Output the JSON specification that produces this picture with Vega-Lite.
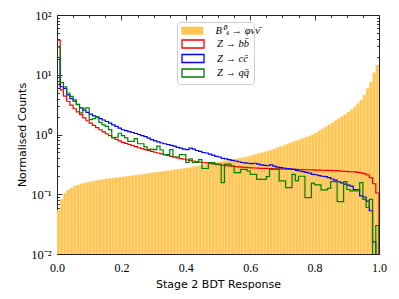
{
"$schema": "https://vega.github.io/schema/vega-lite/v6.json",
"width": 322, "height": 239,
"autosize": {"type": "none"},
"padding": {"left": 57, "top": 15, "right": 20, "bottom": 45},
"background": "white",
"config": {
  "view": {"stroke": null},
  "axis": {"domainColor": "#222222", "domainWidth": 1, "tickColor": "#222222", "tickWidth": 0.9, "grid": false, "labelFont": "Liberation Serif", "labelFontSize": 12, "labelColor": "#000000", "titleFont": "DejaVu Sans", "titleFontSize": 11, "titleFontWeight": "normal", "titleColor": "#000000", "labelOverlap": false, "labelFlush": false},
  "legend": {"labelFont": "Liberation Serif", "labelFontStyle": "italic", "labelFontSize": 10.5, "labelOffset": 18, "labelColor": "#000000", "symbolType": "M-2.2,-0.8H2.2V0.8H-2.2Z", "symbolSize": 100, "symbolOffset": 6, "rowPadding": 0.5}
},
"datasets": {"h": [
{"lo":0.00,"hi":0.01,"s":0.054,"b":38,"c":18,"q":29},
{"lo":0.01,"hi":0.02,"s":0.083,"b":5.6,"c":6.3,"q":7.4},
{"lo":0.02,"hi":0.03,"s":0.105,"b":4.4,"c":5.9,"q":6.3},
{"lo":0.03,"hi":0.04,"s":0.118,"b":3.6,"c":4.6,"q":4.95},
{"lo":0.04,"hi":0.05,"s":0.128,"b":3.1,"c":4.0,"q":4.35},
{"lo":0.05,"hi":0.06,"s":0.137,"b":2.7,"c":3.6,"q":3.8},
{"lo":0.06,"hi":0.07,"s":0.143,"b":2.4,"c":3.2,"q":3.16},
{"lo":0.07,"hi":0.08,"s":0.149,"b":2.15,"c":2.8,"q":2.3},
{"lo":0.08,"hi":0.09,"s":0.154,"b":1.9,"c":2.55,"q":2.75},
{"lo":0.09,"hi":0.10,"s":0.159,"b":1.7,"c":2.35,"q":2.78},
{"lo":0.10,"hi":0.11,"s":0.163,"b":1.55,"c":2.2,"q":1.78},
{"lo":0.11,"hi":0.12,"s":0.167,"b":1.42,"c":2.05,"q":1.85},
{"lo":0.12,"hi":0.13,"s":0.171,"b":1.30,"c":1.95,"q":1.97},
{"lo":0.13,"hi":0.14,"s":0.175,"b":1.20,"c":1.85,"q":1.6},
{"lo":0.14,"hi":0.15,"s":0.178,"b":1.11,"c":1.75,"q":1.45},
{"lo":0.15,"hi":0.16,"s":0.181,"b":1.03,"c":1.65,"q":1.37},
{"lo":0.16,"hi":0.17,"s":0.184,"b":0.96,"c":1.55,"q":1.21},
{"lo":0.17,"hi":0.18,"s":0.187,"b":0.89,"c":1.45,"q":0.88},
{"lo":0.18,"hi":0.19,"s":0.190,"b":0.83,"c":1.37,"q":0.9},
{"lo":0.19,"hi":0.20,"s":0.193,"b":0.78,"c":1.28,"q":1.05},
{"lo":0.20,"hi":0.21,"s":0.196,"b":0.74,"c":1.20,"q":0.96},
{"lo":0.21,"hi":0.22,"s":0.199,"b":0.71,"c":1.16,"q":0.88},
{"lo":0.22,"hi":0.23,"s":0.202,"b":0.68,"c":1.12,"q":0.77},
{"lo":0.23,"hi":0.24,"s":0.206,"b":0.65,"c":1.08,"q":0.77},
{"lo":0.24,"hi":0.25,"s":0.209,"b":0.625,"c":1.04,"q":0.85},
{"lo":0.25,"hi":0.26,"s":0.213,"b":0.60,"c":1.0,"q":0.70},
{"lo":0.26,"hi":0.27,"s":0.216,"b":0.58,"c":0.96,"q":0.70},
{"lo":0.27,"hi":0.28,"s":0.220,"b":0.56,"c":0.92,"q":0.62},
{"lo":0.28,"hi":0.29,"s":0.224,"b":0.54,"c":0.87,"q":0.56},
{"lo":0.29,"hi":0.30,"s":0.228,"b":0.52,"c":0.82,"q":0.57},
{"lo":0.30,"hi":0.31,"s":0.232,"b":0.505,"c":0.78,"q":0.56},
{"lo":0.31,"hi":0.32,"s":0.236,"b":0.49,"c":0.75,"q":0.64},
{"lo":0.32,"hi":0.33,"s":0.240,"b":0.475,"c":0.72,"q":0.55},
{"lo":0.33,"hi":0.34,"s":0.244,"b":0.46,"c":0.70,"q":0.46},
{"lo":0.34,"hi":0.35,"s":0.248,"b":0.445,"c":0.68,"q":0.46},
{"lo":0.35,"hi":0.36,"s":0.252,"b":0.43,"c":0.66,"q":0.56},
{"lo":0.36,"hi":0.37,"s":0.257,"b":0.42,"c":0.64,"q":0.42},
{"lo":0.37,"hi":0.38,"s":0.261,"b":0.405,"c":0.61,"q":0.42},
{"lo":0.38,"hi":0.39,"s":0.266,"b":0.395,"c":0.59,"q":0.46},
{"lo":0.39,"hi":0.40,"s":0.271,"b":0.385,"c":0.57,"q":0.46},
{"lo":0.40,"hi":0.41,"s":0.276,"b":0.375,"c":0.56,"q":0.34},
{"lo":0.41,"hi":0.42,"s":0.282,"b":0.367,"c":0.59,"q":0.39},
{"lo":0.42,"hi":0.43,"s":0.289,"b":0.36,"c":0.57,"q":0.34},
{"lo":0.43,"hi":0.44,"s":0.296,"b":0.353,"c":0.54,"q":0.34},
{"lo":0.44,"hi":0.45,"s":0.303,"b":0.346,"c":0.52,"q":0.38},
{"lo":0.45,"hi":0.46,"s":0.310,"b":0.34,"c":0.50,"q":0.27},
{"lo":0.46,"hi":0.47,"s":0.317,"b":0.334,"c":0.49,"q":0.27},
{"lo":0.47,"hi":0.48,"s":0.325,"b":0.328,"c":0.47,"q":0.34},
{"lo":0.48,"hi":0.49,"s":0.332,"b":0.322,"c":0.45,"q":0.34},
{"lo":0.49,"hi":0.50,"s":0.340,"b":0.317,"c":0.43,"q":0.32},
{"lo":0.50,"hi":0.51,"s":0.348,"b":0.312,"c":0.42,"q":0.32},
{"lo":0.51,"hi":0.52,"s":0.356,"b":0.307,"c":0.40,"q":0.157},
{"lo":0.52,"hi":0.53,"s":0.365,"b":0.302,"c":0.39,"q":0.32},
{"lo":0.53,"hi":0.54,"s":0.373,"b":0.298,"c":0.38,"q":0.32},
{"lo":0.54,"hi":0.55,"s":0.382,"b":0.294,"c":0.37,"q":0.30},
{"lo":0.55,"hi":0.56,"s":0.391,"b":0.29,"c":0.36,"q":0.23},
{"lo":0.56,"hi":0.57,"s":0.400,"b":0.287,"c":0.35,"q":0.23},
{"lo":0.57,"hi":0.58,"s":0.410,"b":0.284,"c":0.34,"q":0.26},
{"lo":0.58,"hi":0.59,"s":0.420,"b":0.281,"c":0.335,"q":0.26},
{"lo":0.59,"hi":0.60,"s":0.430,"b":0.279,"c":0.33,"q":0.245},
{"lo":0.60,"hi":0.61,"s":0.445,"b":0.277,"c":0.325,"q":0.215},
{"lo":0.61,"hi":0.62,"s":0.461,"b":0.275,"c":0.33,"q":0.215},
{"lo":0.62,"hi":0.63,"s":0.477,"b":0.274,"c":0.32,"q":0.178},
{"lo":0.63,"hi":0.64,"s":0.494,"b":0.272,"c":0.31,"q":0.178},
{"lo":0.64,"hi":0.65,"s":0.512,"b":0.271,"c":0.305,"q":0.178},
{"lo":0.65,"hi":0.66,"s":0.530,"b":0.27,"c":0.30,"q":0.197},
{"lo":0.66,"hi":0.67,"s":0.550,"b":0.268,"c":0.31,"q":0.26},
{"lo":0.67,"hi":0.68,"s":0.575,"b":0.267,"c":0.295,"q":0.26},
{"lo":0.68,"hi":0.69,"s":0.602,"b":0.266,"c":0.285,"q":0.26},
{"lo":0.69,"hi":0.70,"s":0.630,"b":0.265,"c":0.28,"q":0.167},
{"lo":0.70,"hi":0.71,"s":0.660,"b":0.264,"c":0.275,"q":0.167},
{"lo":0.71,"hi":0.72,"s":0.690,"b":0.263,"c":0.27,"q":0.129},
{"lo":0.72,"hi":0.73,"s":0.722,"b":0.262,"c":0.265,"q":0.129},
{"lo":0.73,"hi":0.74,"s":0.756,"b":0.261,"c":0.26,"q":0.215},
{"lo":0.74,"hi":0.75,"s":0.791,"b":0.26,"c":0.25,"q":0.167},
{"lo":0.75,"hi":0.76,"s":0.828,"b":0.259,"c":0.245,"q":0.2},
{"lo":0.76,"hi":0.77,"s":0.866,"b":0.258,"c":0.24,"q":0.2},
{"lo":0.77,"hi":0.78,"s":0.907,"b":0.257,"c":0.232,"q":0.088},
{"lo":0.78,"hi":0.79,"s":0.950,"b":0.256,"c":0.225,"q":0.088},
{"lo":0.79,"hi":0.80,"s":1.00,"b":0.255,"c":0.215,"q":0.153},
{"lo":0.80,"hi":0.81,"s":1.07,"b":0.254,"c":0.212,"q":0.143},
{"lo":0.81,"hi":0.82,"s":1.15,"b":0.253,"c":0.205,"q":0.143},
{"lo":0.82,"hi":0.83,"s":1.24,"b":0.252,"c":0.20,"q":0.118},
{"lo":0.83,"hi":0.84,"s":1.34,"b":0.251,"c":0.197,"q":0.118},
{"lo":0.84,"hi":0.85,"s":1.45,"b":0.25,"c":0.19,"q":0.125},
{"lo":0.85,"hi":0.86,"s":1.57,"b":0.249,"c":0.18,"q":0.163},
{"lo":0.86,"hi":0.87,"s":1.70,"b":0.248,"c":0.172,"q":0.163},
{"lo":0.87,"hi":0.88,"s":1.85,"b":0.246,"c":0.162,"q":0.075},
{"lo":0.88,"hi":0.89,"s":2.00,"b":0.244,"c":0.155,"q":0.075},
{"lo":0.89,"hi":0.90,"s":2.17,"b":0.242,"c":0.148,"q":0.163},
{"lo":0.90,"hi":0.91,"s":2.38,"b":0.240,"c":0.142,"q":0.12},
{"lo":0.91,"hi":0.92,"s":2.62,"b":0.238,"c":0.137,"q":0.114},
{"lo":0.92,"hi":0.93,"s":2.92,"b":0.236,"c":0.12,"q":0.114},
{"lo":0.93,"hi":0.94,"s":3.30,"b":0.233,"c":0.12,"q":0.114},
{"lo":0.94,"hi":0.95,"s":3.80,"b":0.228,"c":0.094,"q":0.157},
{"lo":0.95,"hi":0.96,"s":4.60,"b":0.222,"c":0.09,"q":0.082},
{"lo":0.96,"hi":0.97,"s":5.90,"b":0.21,"c":0.077,"q":0.06},
{"lo":0.97,"hi":0.98,"s":7.60,"b":0.19,"c":0.053,"q":0.082},
{"lo":0.98,"hi":0.99,"s":10.8,"b":0.15,"c":0.016,"q":0.00001},
{"lo":0.99,"hi":1.00,"s":14.5,"b":0.105,"c":0.00001,"q":0.03},
{"lo":1.00,"b":0.00001,"c":0.00001,"q":0.00001}
]},
"data": {"name": "h"},
"layer": [
  {
    "mark": {"type": "bar", "clip": true, "stroke": "#ffdc9c", "strokeWidth": 0.5},
    "encoding": {
      "x": {"field": "lo", "type": "quantitative", "scale": {"domain": [0, 1], "nice": false, "zero": false},
        "axis": {"orient": "bottom", "values": [0,0.05,0.1,0.15,0.2,0.25,0.3,0.35,0.4,0.45,0.5,0.55,0.6,0.65,0.7,0.75,0.8,0.85,0.9,0.95,1],
          "labelExpr": "abs(datum.value*5 - round(datum.value*5)) < 0.001 ? format(datum.value, '.1f') : ''",
          "tickSize": {"condition": {"test": "abs(datum.value*5 - round(datum.value*5)) < 0.001", "value": -5}, "value": -2.5},
          "labelPadding": 13, "title": "Stage 2 BDT Response", "titlePadding": 3}},
      "x2": {"field": "hi"},
      "y": {"field": "s", "type": "quantitative", "scale": {"type": "log", "domain": [0.01, 100], "nice": false},
        "axis": {"orient": "left", "values": [0.01,0.02,0.03,0.04,0.05,0.06,0.07,0.08,0.09,0.1,0.2,0.3,0.4,0.5,0.6,0.7,0.8,0.9,1,2,3,4,5,6,7,8,9,10,20,30,40,50,60,70,80,90,100],
          "labelExpr": "datum.value == 100 ? '10²' : datum.value == 10 ? '10¹' : datum.value == 1 ? '10⁰' : datum.value == 0.1 ? '10⁻¹' : datum.value == 0.01 ? '10⁻²' : ''",
          "tickSize": {"condition": {"test": "indexof([0.01,0.1,1,10,100], datum.value) >= 0", "value": -5}, "value": -2.5},
          "labelPadding": 11, "labelFontSize": 12.5, "title": "Normalised Counts", "titlePadding": 3}},
      "y2": {"datum": 0.01},
      "fill": {"datum": "B⁰ₛ → φνν̄", "type": "nominal",
        "scale": {"domain": ["B⁰ₛ → φνν̄"], "range": ["#ffc653"]},
        "legend": {"orient": "none", "legendX": 124, "legendY": 10.5, "title": null, "padding": 0, "symbolStrokeWidth": 0, "symbolStrokeColor": "#ffc653"}}
    }
  },
  {
    "mark": {"type": "line", "interpolate": "step-after", "clip": true, "strokeWidth": 1.2},
    "encoding": {
      "x": {"field": "lo", "type": "quantitative", "scale": {"domain": [0, 1], "nice": false, "zero": false},
        "axis": {"orient": "top", "values": [0,0.05,0.1,0.15,0.2,0.25,0.3,0.35,0.4,0.45,0.5,0.55,0.6,0.65,0.7,0.75,0.8,0.85,0.9,0.95,1], "labels": false, "title": null,
          "tickSize": {"condition": {"test": "abs(datum.value*5 - round(datum.value*5)) < 0.001", "value": -5}, "value": -2.5}}},
      "y": {"field": "b", "type": "quantitative", "scale": {"type": "log", "domain": [0.01, 100], "nice": false},
        "axis": {"orient": "right", "values": [0.01,0.02,0.03,0.04,0.05,0.06,0.07,0.08,0.09,0.1,0.2,0.3,0.4,0.5,0.6,0.7,0.8,0.9,1,2,3,4,5,6,7,8,9,10,20,30,40,50,60,70,80,90,100], "labels": false, "title": null,
          "tickSize": {"condition": {"test": "indexof([0.01,0.1,1,10,100], datum.value) >= 0", "value": -5}, "value": -2.5}}},
      "stroke": {"datum": "Z → bb̄", "type": "nominal",
        "scale": {"domain": ["Z → bb̄", "Z → cc̄", "Z → qq̄"], "range": ["#ff0000", "#0000ff", "#008000"]},
        "legend": {"orient": "none", "legendX": 120, "legendY": 7, "title": " ", "titleFontSize": 10, "titlePadding": 2,
          "padding": 4, "symbolStrokeWidth": 1.3, "symbolFillColor": "transparent",
          "fillColor": "transparent", "strokeColor": "#d0d0d0", "cornerRadius": 3}}
    }
  },
  {
    "mark": {"type": "line", "interpolate": "step-after", "clip": true, "strokeWidth": 1.2},
    "encoding": {
      "x": {"field": "lo", "type": "quantitative", "scale": {"domain": [0, 1], "nice": false, "zero": false}, "axis": null},
      "y": {"field": "c", "type": "quantitative", "scale": {"type": "log", "domain": [0.01, 100], "nice": false}, "axis": null},
      "stroke": {"datum": "Z → cc̄", "type": "nominal"}
    }
  },
  {
    "mark": {"type": "line", "interpolate": "step-after", "clip": true, "strokeWidth": 1.2},
    "encoding": {
      "x": {"field": "lo", "type": "quantitative", "scale": {"domain": [0, 1], "nice": false, "zero": false}, "axis": null},
      "y": {"field": "q", "type": "quantitative", "scale": {"type": "log", "domain": [0.01, 100], "nice": false}, "axis": null},
      "stroke": {"datum": "Z → qq̄", "type": "nominal"}
    }
  }
],
"resolve": {"axis": {"x": "independent", "y": "independent"}}
}
